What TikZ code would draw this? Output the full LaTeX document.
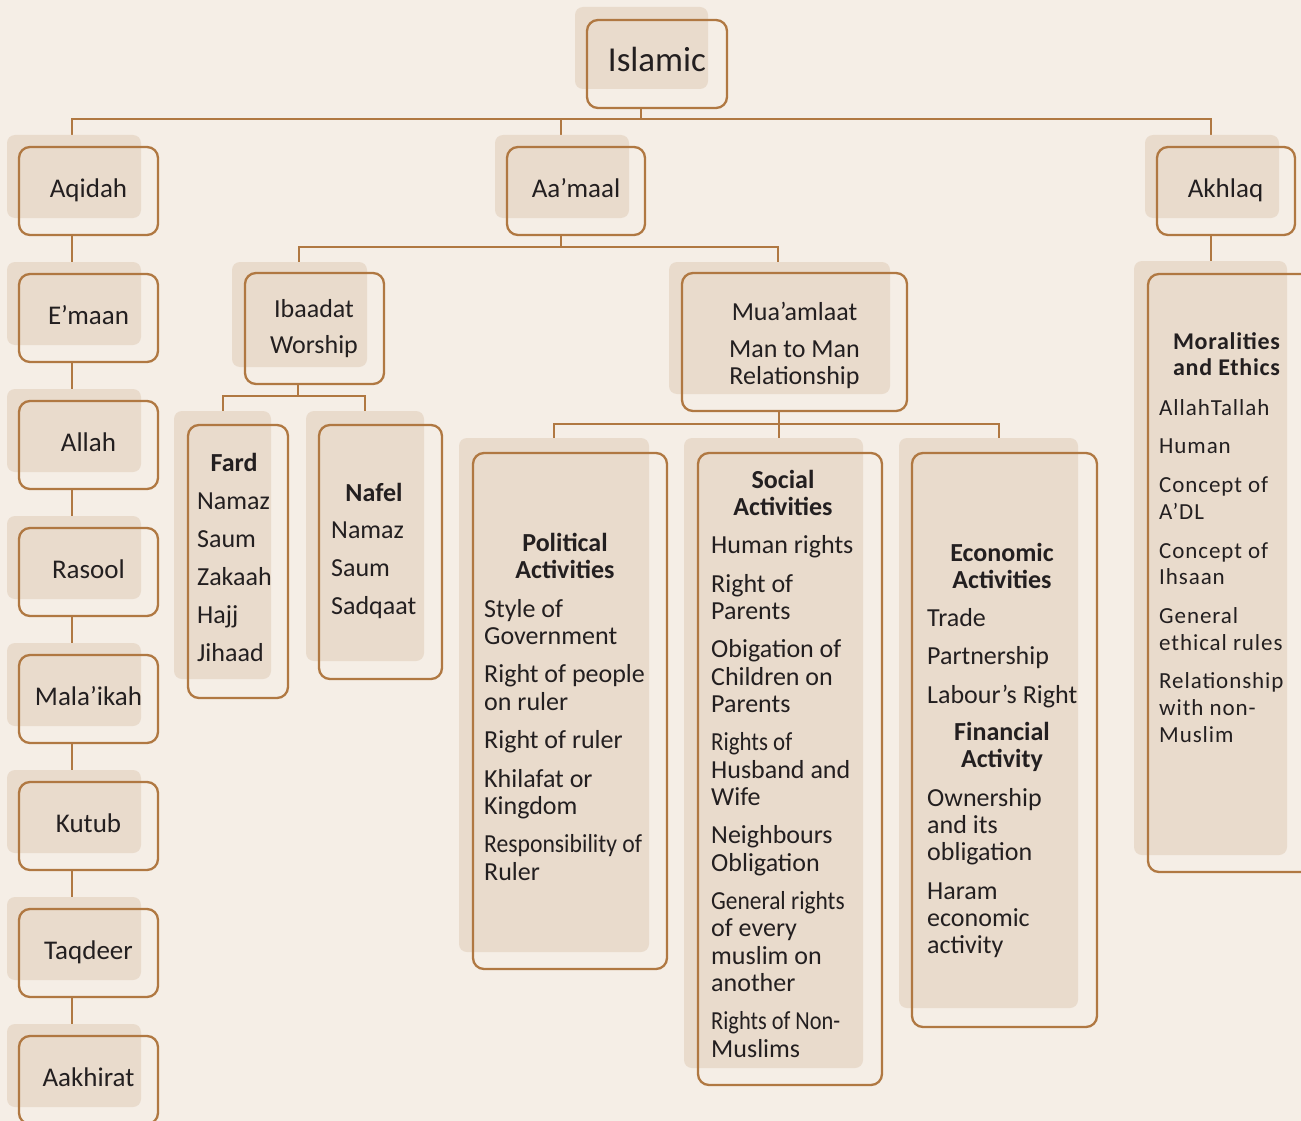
\documentclass[tikz,border=0pt]{standalone}
\usepackage{fontspec}
\usepackage{graphicx}
\setmainfont{Carlito}
\newfontfamily\trk[LetterSpace=4]{Carlito}
\newfontfamily\trkh[LetterSpace=3]{Carlito}
\definecolor{paperc}{HTML}{F5EEE6}
\definecolor{shadec}{HTML}{E9DBCC}
\definecolor{linec}{HTML}{B07842}
\definecolor{inkc}{HTML}{231F20}
\pgfdeclarelayer{paper}\pgfdeclarelayer{lines}\pgfdeclarelayer{shades}
\pgfsetlayers{paper,lines,shades,main}
\newcommand\sq[2]{\scalebox{#1}[1]{#2}}
\newcommand\shd[4]{\begin{pgfonlayer}{shades}\fill[shdbox] (#1,#2) rectangle (#3,#4);\end{pgfonlayer}}
\tikzset{
 frm/.style={draw=linec, line width=2.3pt, rounded corners=11pt, inner sep=0pt, fill=none},
 shdbox/.style={fill=shadec, rounded corners=8pt},
 conn/.style={draw=linec, line width=2.3pt},
 lbl/.style={anchor=base, inner sep=0pt, text=inkc, align=center, font=\fontsize{27}{27}\selectfont},
 lst/.style={anchor=base west, inner sep=0pt, text=inkc, align=left, font=\fontsize{26}{27.2}\selectfont},
 hdr/.style={anchor=base, inner sep=0pt, text=inkc, align=center, font=\fontsize{26}{26.5}\selectfont\bfseries},
}
\begin{document}
\begin{tikzpicture}[x=1pt,y=-1pt]
\useasboundingbox (0,0) rectangle (1301,1121);
\begin{pgfonlayer}{paper}
\fill[paperc] (0,0) rectangle (1301,1121);
\end{pgfonlayer}
\clip (0,0) rectangle (1301,1121);

% (multi-line nodes are placed by the baseline of their LAST line)

% ---------- top ----------
\shd{575}{7}{708}{89}
\node[frm, minimum width=140pt, minimum height=88pt] (islamic) at (657,64) {};
\node[lbl, font=\fontsize{35}{35}\selectfont] (tislamic) at (657,72) {Islamic};

% ---------- left column ----------
\foreach \n/\t [count=\k from 0] in {aqidah/Aqidah, emaan/E’maan, allah/Allah, rasool/Rasool, malaikah/Mala’ikah, kutub/Kutub, taqdeer/Taqdeer, aakhirat/Aakhirat}{
  \shd{7}{135+127*\k}{141}{218+127*\k}
  \node[frm, minimum width=139pt, minimum height=88pt] (\n) at (88.5,{191+127*\k}) {};
  \node[lbl] (t\n) at (88.5,{197+127*\k}) {\t};
}

% ---------- Aa'maal / Akhlaq ----------
\shd{495}{135}{629}{218}
\node[frm, minimum width=138pt, minimum height=88pt] (aamaal) at (576,191) {};
\node[lbl] (taamaal) at (576,197) {Aa’maal};

\shd{1145}{135}{1279}{218}
\node[frm, minimum width=138pt, minimum height=88pt] (akhlaq) at (1226,191) {};
\node[lbl] (takhlaq) at (1225.5,197) {Akhlaq};

% ---------- Ibaadat ----------
\shd{232}{262}{367}{367}
\node[frm, minimum width=139pt, minimum height=111pt] (ibaadat) at (314.5,328.5) {};
\node[lbl, font=\fontsize{26}{27}\selectfont] (tibaadat) at (314,353) {Ibaadat\\[9pt]Worship};

% ---------- Mua'amlaat ----------
\shd{669}{262}{890}{394}
\node[frm, minimum width=225pt, minimum height=138pt] (muaamlaat) at (794.5,342) {};
\node[lbl, font=\fontsize{26}{27}\selectfont] (tmuaamlaat) at (794.5,384) {Mua’amlaat\\[10pt]Man to Man\\Relationship};

% ---------- Fard ----------
\shd{174}{411}{271}{679}
\node[frm, minimum width=100pt, minimum height=273pt] (fard) at (238,561.5) {};
\node[hdr] (hfard) at (234,471) {Fard};
\node[lst] (lfard) at (197,661) {Namaz\\[10.6pt]Saum\\[10.6pt]Zakaah\\[10.6pt]Hajj\\[10.6pt]Jihaad};

% ---------- Nafel ----------
\shd{306}{411}{424}{661}
\node[frm, minimum width=123pt, minimum height=254pt] (nafel) at (380.5,552) {};
\node[hdr] (hnafel) at (374,501) {Nafel};
\node[lst] (lnafel) at (331,614) {Namaz\\[10.8pt]Saum\\[10.8pt]Sadqaat};

% ---------- Political ----------
\shd{459}{438}{649}{952}
\node[frm, minimum width=194pt, minimum height=516pt] (political) at (570,711) {};
\node[hdr] (hpolitical) at (565,578) {Political\\Activities};
\node[lst] (lpolitical) at (484,880) {Style of\\Government\\[11.3pt]Right of people\\on ruler\\[11.3pt]Right of ruler\\[11.3pt]Khilafat or\\Kingdom\\[11.3pt]\sq{0.91}{Responsibility of}\\Ruler};

% ---------- Social ----------
\shd{684}{438}{863}{1068}
\node[frm, minimum width=184pt, minimum height=632pt] (social) at (790,769) {};
\node[hdr] (hsocial) at (783,515) {Social\\Activities};
\node[lst] (lsocial) at (711,1057) {Human rights\\[11.4pt]Right of\\Parents\\[11.4pt]Obigation of\\Children on\\Parents\\[11.4pt]\sq{0.88}{Rights of}\\Husband and\\Wife\\[11.4pt]Neighbours\\Obligation\\[11.4pt]\sq{0.9}{General rights}\\of every\\muslim on\\another\\[11.4pt]\sq{0.86}{Rights of Non-}\\Muslims};

% ---------- Economic ----------
\shd{899}{438}{1078}{1008}
\node[frm, minimum width=185pt, minimum height=574pt] (economic) at (1004.5,740) {};
\node[hdr] (heconomic) at (1002,588) {Economic\\Activities};
\node[lst, font=\fontsize{26}{27}\selectfont] (leconomic) at (927,703) {Trade\\[11.5pt]Partnership\\[11.5pt]Labour’s Right};
\node[hdr] (hfinancial) at (1002,767) {Financial\\Activity};
\node[lst, font=\fontsize{26}{27}\selectfont] (lfinancial) at (927,953) {Ownership\\and its\\obligation\\[12pt]Haram\\economic\\activity};

% ---------- Moralities ----------
\shd{1134}{261}{1287}{855}
\node[frm, minimum width=164pt, minimum height=598pt] (morals) at (1230,573) {};
\node[hdr, font=\trkh\fontsize{24}{26}\selectfont\bfseries] (hmorals) at (1226.5,375) {Moralities\\and Ethics};
\node[lst, font=\trk\fontsize{23}{26.6}\selectfont] (lmorals) at (1159,742) {AllahTallah\\[12.2pt]Human\\[12.2pt]Concept of\\A’DL\\[12.2pt]Concept of\\Ihsaan\\[12.2pt]General\\ethical rules\\[12.2pt]Relationship\\with non-\\Muslim};

% ---------- connectors ----------
\coordinate (busTop) at (641,119);
\coordinate (busL) at (72,119);
\coordinate (busM) at (561,119);
\coordinate (busR) at (1211,119);
\coordinate (b2) at (561,247);
\coordinate (b2L) at (299,247);
\coordinate (b2R) at (778,247);
\coordinate (b3) at (298,396);
\coordinate (b3L) at (223,396);
\coordinate (b3R) at (365,396);
\coordinate (b4) at (779,424);
\coordinate (b4L) at (554,424);
\coordinate (b4R) at (999,424);
\begin{pgfonlayer}{lines}
\draw[conn] (islamic.south -| busTop) -- (busTop);
\draw[conn] (aqidah.north -| busL) -- (busL) -- (busR) -- (akhlaq.north -| busR);
\draw[conn] (busM) -- (aamaal.north -| busM);
\foreach \a/\b in {aqidah/emaan, emaan/allah, allah/rasool, rasool/malaikah, malaikah/kutub, kutub/taqdeer, taqdeer/aakhirat}{
  \draw[conn] (\a.south -| busL) -- (\b.north -| busL);
}
\draw[conn] (aamaal.south -| b2) -- (b2);
\draw[conn] (ibaadat.north -| b2L) -- (b2L) -- (b2R) -- (muaamlaat.north -| b2R);
\draw[conn] (akhlaq.south -| busR) -- (morals.north -| busR);
\draw[conn] (ibaadat.south -| b3) -- (b3);
\draw[conn] (fard.north -| b3L) -- (b3L) -- (b3R) -- (nafel.north -| b3R);
\draw[conn] (muaamlaat.south -| b4) -- (b4);
\draw[conn] (political.north -| b4L) -- (b4L) -- (b4R) -- (economic.north -| b4R);
\draw[conn] (b4) -- (social.north -| b4);
\end{pgfonlayer}
\end{tikzpicture}
\end{document}
